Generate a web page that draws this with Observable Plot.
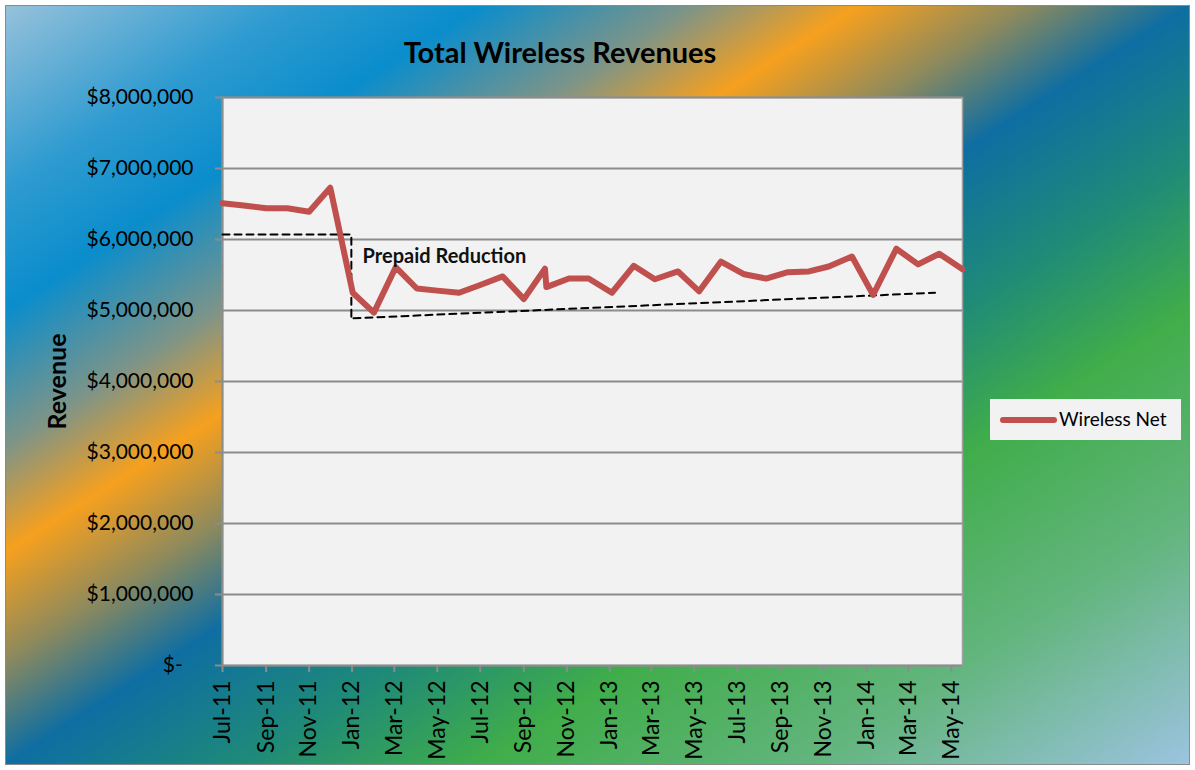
<!DOCTYPE html>
<html><head><meta charset="utf-8">
<script src="https://cdn.jsdelivr.net/npm/d3@7"></script>
<script src="https://cdn.jsdelivr.net/npm/@observablehq/plot@0.6"></script>
<style>
body{margin:0;background:#fff;}
#wrap{position:relative;width:1195px;height:770px;overflow:hidden;font-family:Lato, "Open Sans", sans-serif;}
#bg{position:absolute;left:5px;top:5px;width:1185px;height:760px;box-sizing:border-box;border:1.5px solid #8a8a8a;
 background:linear-gradient(to bottom right,#96c1da 0%,#2f9bd0 12%,#0a8dcc 20%,#7d9488 29%,#f6a01e 36%,#8f8a5c 43%,#0e6ea2 50%,#1f8a78 60%,#40ad4a 70%,#63b57e 84%,#9cc3e0 100%);}
#chart{position:absolute;left:0;top:0;}
#title{position:absolute;left:0;width:1120px;top:34px;text-align:center;font-weight:bold;font-size:29px;color:#000;}
#legend{position:absolute;left:990px;top:399px;width:191px;height:41px;background:#f2f2f2;}
#legend .sw{position:absolute;left:10px;top:18px;width:57px;height:6px;border-radius:3px;background:#c0504d;}
#legend .lb{position:absolute;left:69px;top:8px;font-size:19px;color:#000;line-height:24px;}
</style>
</head><body>
<div id="wrap">
 <div id="bg"></div>
 <div id="chart"></div>
 <div id="title">Total Wireless Revenues</div>
 <div id="legend"><div class="sw"></div><div class="lb">Wireless Net</div></div>
</div>
<script>
// ---- data ----
const seriesName = "Wireless Net";
const dates = ["2011-07-01","2011-07-31","2011-09-01","2011-10-01","2011-11-01","2011-12-01","2012-01-02","2012-02-01","2012-03-03","2012-04-02","2012-05-01","2012-06-01","2012-07-01","2012-08-02","2012-09-01","2012-10-01","2012-10-03","2012-11-04","2012-12-02","2013-01-04","2013-02-04","2013-03-06","2013-04-08","2013-05-08","2013-06-08","2013-07-11","2013-08-11","2013-09-11","2013-10-11","2013-11-08","2013-12-11","2014-01-10","2014-02-12","2014-03-15","2014-04-14","2014-05-17"];
const revenue = [6510000,6480000,6440000,6440000,6390000,6730000,5250000,4970000,5610000,5310000,5280000,5250000,5360000,5480000,5160000,5590000,5330000,5450000,5450000,5250000,5630000,5440000,5550000,5270000,5690000,5510000,5450000,5540000,5550000,5620000,5760000,5220000,5870000,5650000,5800000,5580000];
const xTickDates = ["2011-07-01","2011-09-01","2011-11-01","2012-01-01","2012-03-01","2012-05-01","2012-07-01","2012-09-01","2012-11-01","2013-01-01","2013-03-01","2013-05-01","2013-07-01","2013-09-01","2013-11-01","2014-01-01","2014-03-01","2014-05-01"];
const yTicks = [0,1000000,2000000,3000000,4000000,5000000,6000000,7000000,8000000];
// annotation: dashed guide lines (date, value, segment)
const guideDates = ["2011-07-01","2011-12-31","2011-12-31","2012-01-03","2014-04-08"];
const guideValues = [6070000,6070000,4900000,4890000,5250000];
const guideSeg = ["a","a","a","b","b"];
const noteText = "Prepaid Reduction";
const noteDate = "2012-01-16";
const noteValue = 5760000;

// ---- build ----
const parse = d3.utcParse("%Y-%m-%d");
const data = dates.map((d,i)=>({date: parse(d), value: revenue[i]}));
const guides = guideDates.map((d,i)=>({date: parse(d), value: guideValues[i], seg: guideSeg[i]}));
const fmt = d3.format(",");
const yFmt = v => v === 0 ? "$-\u00A0\u00A0" : "$" + fmt(v);

const chart = Plot.plot({
  width: 1195, height: 770,
  marginLeft: 222, marginRight: 233, marginTop: 97, marginBottom: 105,
  style: {background: "transparent", fontFamily: "Lato, 'Open Sans', sans-serif", overflow: "visible", color: "#000"},
  x: {type: "utc", domain: [data[0].date, data[data.length-1].date]},
  y: {domain: [0, 8000000]},
  marks: [
    Plot.frame({fill: "#f2f2f2", stroke: "#a0a0a0", strokeWidth: 1.5}),
    Plot.ruleY(yTicks.filter(v => v > 0), {stroke: "#8c8c8c", strokeWidth: 2}),
    Plot.axisY({ticks: yTicks, tickFormat: yFmt, tickSize: 7, tickPadding: 22, fontSize: 21, stroke: "#8c8c8c", strokeWidth: 2, label: null}),
    Plot.axisX({ticks: xTickDates.map(parse), tickFormat: d3.utcFormat("%b-%y"), tickRotate: -90, tickSize: 7, tickPadding: 8, fontSize: 23, stroke: "#8c8c8c", strokeWidth: 2, label: null}),
    Plot.ruleX([data[0].date], {stroke: "#8c8c8c", strokeWidth: 2}),
    Plot.ruleY([0], {stroke: "#8c8c8c", strokeWidth: 2}),
    Plot.line(guides, {x: "date", y: "value", z: "seg", stroke: "#000", strokeWidth: 2, strokeDasharray: "7,5"}),
    Plot.line(data, {x: "date", y: "value", stroke: "#c0504d", strokeWidth: 6, strokeLinejoin: "round", strokeLinecap: "round"}),
    Plot.text([noteText], {x: () => parse(noteDate), y: () => noteValue, text: d => d, textAnchor: "start", fontWeight: "bold", fontSize: 20, fill: "#111"}),
    Plot.text(["Revenue"], {frameAnchor: "left", textAnchor: "middle", dx: -165, rotate: -90, fontWeight: "bold", fontSize: 25, fill: "#000"})
  ]
});
document.getElementById("chart").appendChild(chart);
</script>
</body></html>
